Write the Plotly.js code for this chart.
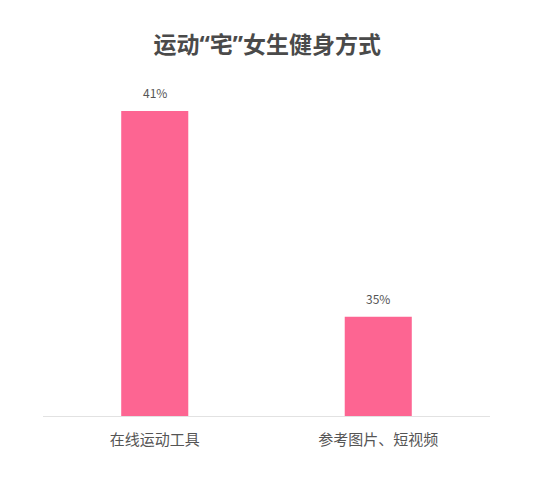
<!DOCTYPE html>
<html>
<head>
<meta charset="utf-8">
<script src="https://cdn.plot.ly/plotly-3.0.1.min.js"></script>
<style>
  html, body { margin: 0; padding: 0; background: #fff; }
  #chart { width: 549px; height: 478px; }
</style>
</head>
<body>
<div id="chart"></div>
<script>
// chart data
const categories = ['在线运动工具', '参考图片、短视频'];
const shares = [41, 35];
const shareLabels = ['41%', '35%'];

const font = '"Noto Sans CJK SC", "Noto Sans", sans-serif';
// narrow latin quotes in the title, CJK for the rest
const titleFont = '"Noto Sans", "Noto Sans CJK SC", sans-serif';

const trace = {
  type: 'bar',
  x: categories,
  y: shares,
  marker: { color: '#fd6592' },
  hoverinfo: 'none'
};

// value labels sit a bit higher than plotly's outside text, so use annotations
const labels = categories.map((c, i) => ({
  x: c,
  y: shares[i],
  text: shareLabels[i],
  showarrow: false,
  yanchor: 'bottom',
  yshift: 8,
  font: { family: font, size: 12, color: '#555' }
}));

const layout = {
  width: 549,
  height: 478,
  margin: { l: 43, r: 59, t: 70, b: 62 },
  paper_bgcolor: '#fff',
  plot_bgcolor: '#fff',
  bargap: 0.7,
  showlegend: false,
  annotations: labels,
  title: {
    text: '<b>运动“宅”女生健身方式</b>',
    x: 0.487, xanchor: 'center',
    y: 0.905, yanchor: 'middle',
    font: { family: titleFont, size: 23, color: '#4a4a4a' }
  },
  xaxis: {
    showline: true,
    linecolor: '#e2e2e2',
    linewidth: 1,
    ticks: 'outside',
    ticklen: 10,
    tickcolor: 'rgba(0,0,0,0)',
    showgrid: false,
    zeroline: false,
    tickfont: { family: font, size: 15, color: '#555' }
  },
  yaxis: {
    range: [32.1, 42.2],
    visible: false,
    showgrid: false,
    zeroline: false
  }
};

Plotly.newPlot('chart', [trace], layout, { staticPlot: true });
</script>
</body>
</html>
